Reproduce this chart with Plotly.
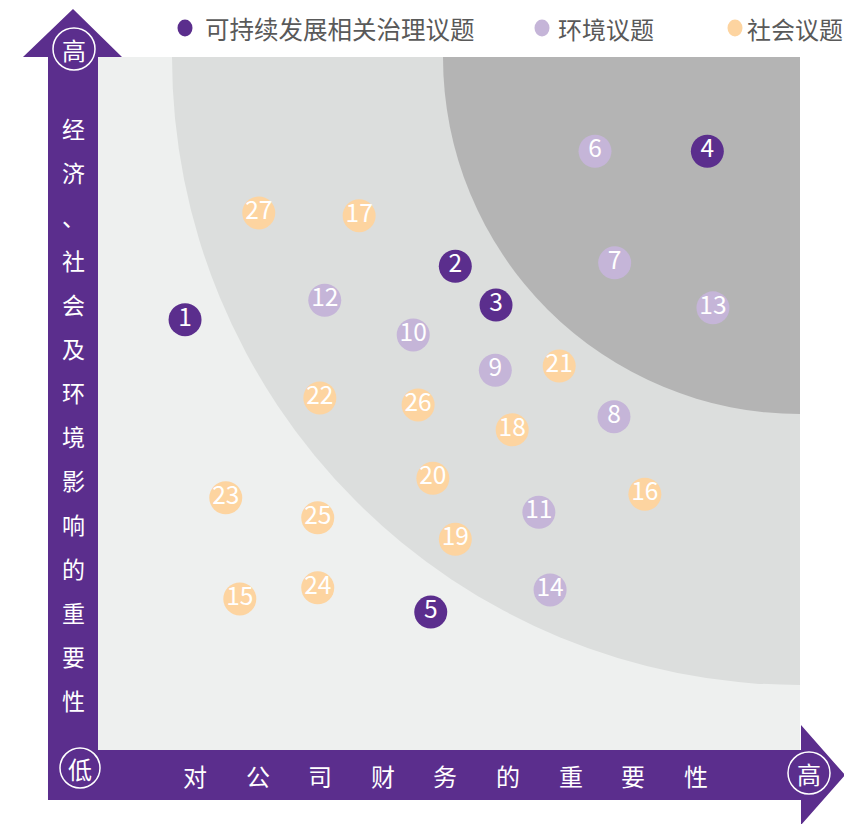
import plotly.graph_objects as go

# ---------------- data ----------------
ids = [str(i) for i in range(1, 28)]
x_fin = [1.24, 5.09, 5.67, 8.68, 4.74, 7.08, 7.36, 7.35, 5.66, 4.49, 6.28, 3.23, 8.76, 6.44,
         2.02, 7.79, 3.72, 5.90, 5.09, 4.77, 6.57, 3.16, 1.82, 3.13, 3.13, 4.56, 2.29]
y_imp = [6.21, 6.98, 6.42, 8.64, 1.99, 8.64, 7.03, 4.81, 5.48, 5.99, 3.43, 6.49, 6.38, 2.31,
         2.18, 3.69, 7.71, 4.62, 3.04, 3.92, 5.54, 5.08, 3.64, 2.34, 3.35, 4.98, 7.75]
group = ["gov"] * 5 + ["env"] * 9 + ["soc"] * 13

group_names = {"gov": "可持续发展相关治理议题", "env": "环境议题", "soc": "社会议题"}
group_colors = {"gov": "#5b2e8d", "env": "#c5b5d8", "soc": "#fdd4a0"}
y_axis_title = "经济、社会及环境影响的重要性"
x_axis_title = "对公司财务的重要性"
hi_label, lo_label = "高", "低"

FONT = "Noto Sans CJK SC"
PURPLE = "#5b2e8d"

W, H = 844, 824
L, R, T, B = 98, 800, 57, 750  # plot area in pixels


def PX(px):
    return (px - L) / (R - L)


def PY(py):
    return (B - py) / (B - T)


fig = go.Figure()

for g in ["gov", "env", "soc"]:
    xs = [x for x, gg in zip(x_fin, group) if gg == g]
    ys = [y for y, gg in zip(y_imp, group) if gg == g]
    tx = [t for t, gg in zip(ids, group) if gg == g]
    fig.add_trace(go.Scatter(
        x=xs, y=ys, text=tx, mode="markers+text", name=group_names[g],
        marker=dict(size=33, color=group_colors[g], line=dict(width=0)),
        textposition="middle center",
        textfont=dict(family=FONT, size=24.5, color="white"),
        showlegend=False, hoverinfo="text"))

shapes = []
# concentric quarter circles centred at top-right corner (10,10)
for rpx, col in [(628, "#dcdedd"), (357, "#b4b4b4")]:
    rx = rpx / (R - L) * 10
    ry = rpx / (B - T) * 10
    shapes.append(dict(type="circle", xref="x", yref="y", x0=10 - rx, x1=10 + rx,
                       y0=10 - ry, y1=10 + ry, fillcolor=col, line=dict(width=0),
                       layer="below"))


def poly(pts):
    return "M " + " L ".join(f"{PX(a):.5f},{PY(b):.5f}" for a, b in pts) + " Z"


# vertical arrow (bar + head) and horizontal arrow
shapes.append(dict(type="path", xref="paper", yref="paper",
                   path=poly([(48, 800), (48, 57), (23, 57), (73, 9), (122, 57), (98, 57), (98, 800)]),
                   fillcolor=PURPLE, line=dict(width=0)))
shapes.append(dict(type="path", xref="paper", yref="paper",
                   path=poly([(48, 750), (801, 750), (801, 725), (845, 775), (801, 825), (801, 800), (48, 800)]),
                   fillcolor=PURPLE, line=dict(width=0)))

annotations = []
# circled end labels
for (cx, cy, r, t) in [(74, 49, 21, hi_label), (80, 768, 20, lo_label), (809, 773, 21, hi_label)]:
    shapes.append(dict(type="circle", xref="paper", yref="paper",
                       x0=PX(cx - r), x1=PX(cx + r), y0=PY(cy + r), y1=PY(cy - r),
                       line=dict(color="white", width=1.5)))
    annotations.append(dict(x=PX(cx), y=PY(cy), xref="paper", yref="paper", text=t,
                            showarrow=False, xanchor="center", yanchor="middle",
                            font=dict(family=FONT, size=24, color="white")))

# vertical axis title
for i, ch in enumerate(y_axis_title):
    annotations.append(dict(x=PX(73), y=PY(128 + i * 44), xref="paper", yref="paper",
                            text=ch, showarrow=False, xanchor="center", yanchor="middle",
                            font=dict(family=FONT, size=23, color="white")))
# horizontal axis title
for i, ch in enumerate(x_axis_title):
    annotations.append(dict(x=PX(195 + i * 62.6), y=PY(775), xref="paper", yref="paper",
                            text=ch, showarrow=False, xanchor="center", yanchor="middle",
                            font=dict(family=FONT, size=24, color="white")))

# legend
for (dx, tx0, g, fs) in [(185, 203, "gov", 24.5), (542, 556, "env", 24), (735, 745, "soc", 24)]:
    shapes.append(dict(type="circle", xref="paper", yref="paper",
                       x0=PX(dx - 7.5), x1=PX(dx + 7.5), y0=PY(28 + 8.5), y1=PY(28 - 8.5),
                       fillcolor=group_colors[g], line=dict(width=0)))
    annotations.append(dict(x=PX(tx0), y=PY(28), xref="paper", yref="paper",
                            text=group_names[g], showarrow=False, xanchor="left", yanchor="middle",
                            font=dict(family=FONT, size=fs, color="#595959")))

fig.update_layout(
    width=W, height=H,
    margin=dict(l=L, r=W - R, t=T, b=H - B),
    paper_bgcolor="white", plot_bgcolor="#eef0ef",
    xaxis=dict(range=[0, 10], visible=False, showgrid=False, zeroline=False, fixedrange=True),
    yaxis=dict(range=[0, 10], visible=False, showgrid=False, zeroline=False, fixedrange=True),
    shapes=shapes, annotations=annotations, showlegend=False,
)

fig.write_html("out.html", config={"displayModeBar": False},
               post_script="document.body.style.margin='0';document.body.style.overflow='hidden';")
